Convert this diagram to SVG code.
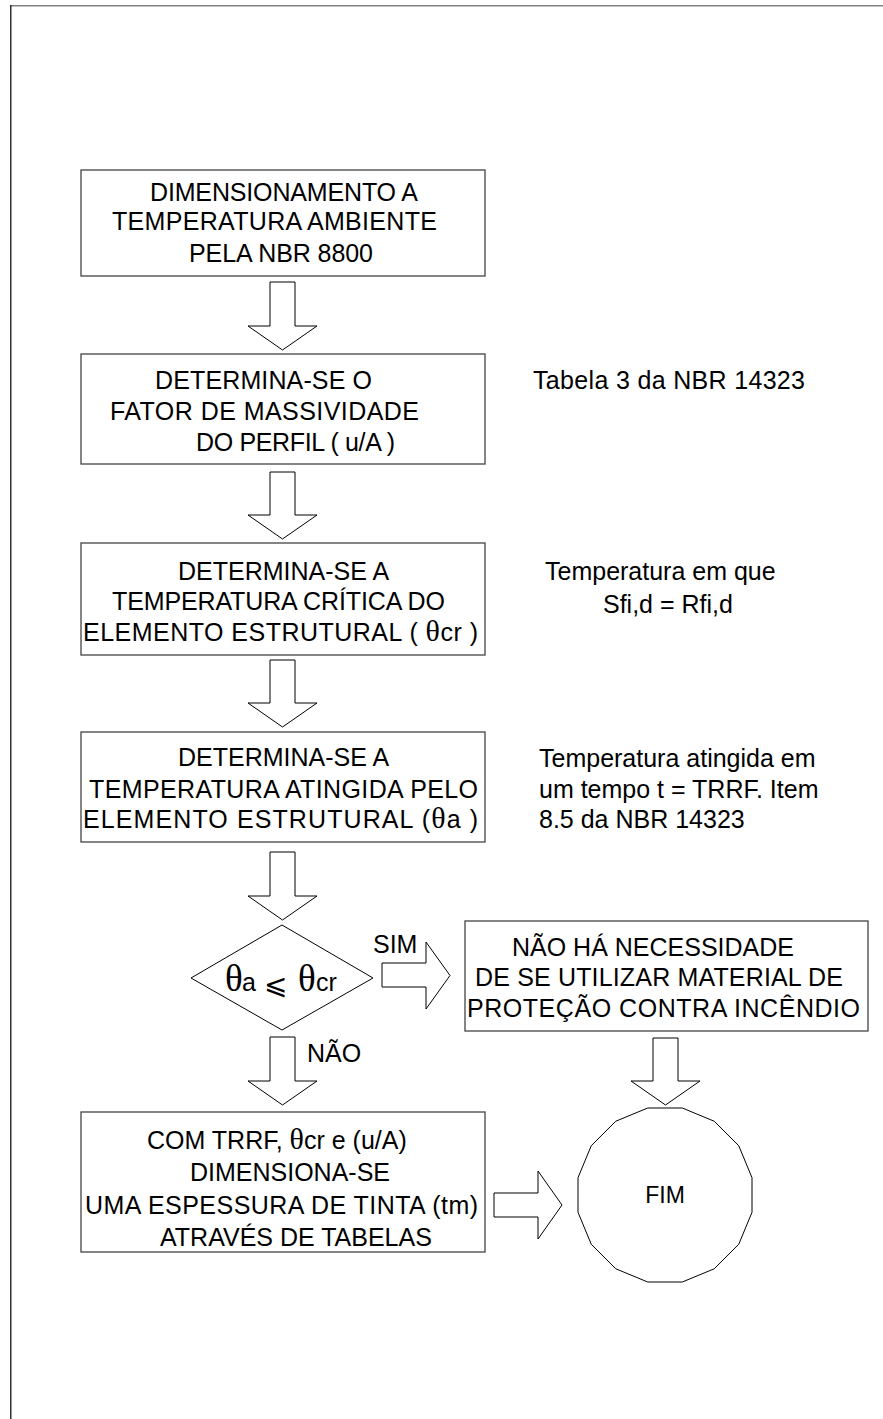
<svg xmlns="http://www.w3.org/2000/svg" width="883" height="1419" viewBox="0 0 883 1419">
<style>
.box{fill:#fff;stroke:#444;stroke-width:1.3}
.arr{fill:#fff;stroke:#000;stroke-width:1}
text{font-family:"Liberation Sans",Arial,sans-serif;font-size:25px;fill:#000}
.th{font-family:"Liberation Serif","Times New Roman",serif;font-size:30px}
.thb{font-family:"Liberation Serif","Times New Roman",serif;font-size:37px}
.le{font-family:"DejaVu Sans",sans-serif;font-size:28px}
.fim{font-size:23px}
</style>
<rect width="883" height="1419" fill="#fff"/>
<g id="frame">
<line x1="11" y1="5.8" x2="883" y2="5.8" stroke="#808080" stroke-width="1.4"/>
<line x1="10.8" y1="5" x2="10.8" y2="1419" stroke="#000" stroke-width="1.2"/>
</g>
<g id="connectors">
<path class="arr" d="M270,282 H295 V326 H317 L282.5,350 L248,326 H270 Z"/>
<path class="arr" d="M270,472 H295 V515 H317 L282.5,539 L248,515 H270 Z"/>
<path class="arr" d="M270,660 H295 V703 H317 L282.5,727 L248,703 H270 Z"/>
<path class="arr" d="M270,852 H295 V896 H317 L282.5,920 L248,896 H270 Z"/>
<path class="arr" d="M270,1037 H295 V1081 H317 L282.5,1105 L248,1081 H270 Z"/>
<path class="arr" d="M653,1038 H678 V1081 H700 L665.5,1105 L631,1081 H653 Z"/>
<path class="arr" d="M382,963 H426 V942 L450,975.5 L426,1009 V987 H382 Z"/>
<path class="arr" d="M494,1193 H538 V1171 L562,1205 L538,1239 V1217 H494 Z"/>
<text x="373" y="953">SIM</text>
<text x="307" y="1062">NÃO</text>
</g>
<g id="n1">
<rect class="box" x="81" y="170" width="404" height="106"/>
<text x="150" y="201" textLength="268">DIMENSIONAMENTO A</text>
<text x="112" y="230" textLength="325">TEMPERATURA AMBIENTE</text>
<text x="189" y="262" textLength="184">PELA NBR 8800</text>
</g>
<g id="n2">
<rect class="box" x="81" y="354" width="404" height="110"/>
<text x="155" y="389" textLength="217">DETERMINA-SE O</text>
<text x="110" y="420" textLength="309">FATOR DE MASSIVIDADE</text>
<text x="196" y="451" textLength="199">DO PERFIL ( u/A )</text>
</g>
<g id="n3">
<rect class="box" x="81" y="543" width="404" height="112"/>
<text x="178" y="580">DETERMINA-SE A</text>
<text x="112" y="610" textLength="333">TEMPERATURA CRÍTICA DO</text>
<text x="83" y="641" textLength="395">ELEMENTO ESTRUTURAL ( <tspan class="th">θ</tspan>cr )</text>
</g>
<g id="n4">
<rect class="box" x="81" y="732" width="404" height="110"/>
<text x="178" y="766">DETERMINA-SE A</text>
<text x="89" y="798" textLength="389">TEMPERATURA ATINGIDA PELO</text>
<text x="83" y="828" textLength="395">ELEMENTO ESTRUTURAL (<tspan class="th">θ</tspan>a )</text>
</g>
<g id="decision">
<polygon class="arr" points="282,925 373,978 282,1030 191,978"/>
<text x="225" y="991" class="thb">θ</text>
<text x="242" y="991">a</text>
<text x="264" y="994" class="le">⩽</text>
<text x="298" y="991" class="thb">θ</text>
<text x="316" y="991">cr</text>
</g>
<g id="n5">
<rect class="box" x="465" y="921" width="403" height="110"/>
<text x="512" y="956">NÃO HÁ NECESSIDADE</text>
<text x="475" y="986" textLength="368">DE SE UTILIZAR MATERIAL DE</text>
<text x="467" y="1017" textLength="393">PROTEÇÃO CONTRA INCÊNDIO</text>
</g>
<g id="n6">
<rect class="box" x="81" y="1112" width="404" height="140"/>
<text x="147" y="1149">COM TRRF, <tspan class="th">θ</tspan>cr e (u/A)</text>
<text x="190" y="1181">DIMENSIONA-SE</text>
<text x="85" y="1214" textLength="393">UMA ESPESSURA DE TINTA (tm)</text>
<text x="160" y="1246">ATRAVÉS DE TABELAS</text>
</g>
<g id="fim">
<polygon class="arr" points="752,1212.3 738.75,1244.28 714.28,1268.75 682.3,1282 647.7,1282 615.72,1268.75 591.25,1244.28 578,1212.3 578,1177.7 591.25,1145.72 615.72,1121.25 647.7,1108 682.3,1108 714.28,1121.25 738.75,1145.72 752,1177.7"/>
<text x="665" y="1203" class="fim" text-anchor="middle">FIM</text>
</g>
<g id="notes">
<text x="533" y="389" textLength="272">Tabela 3 da NBR 14323</text>
<text x="545" y="580">Temperatura em que</text>
<text x="603" y="613">Sfi,d = Rfi,d</text>
<text x="539" y="767">Temperatura atingida em</text>
<text x="539" y="798">um tempo t = TRRF. Item</text>
<text x="539" y="828">8.5 da NBR 14323</text>
</g>
</svg>
